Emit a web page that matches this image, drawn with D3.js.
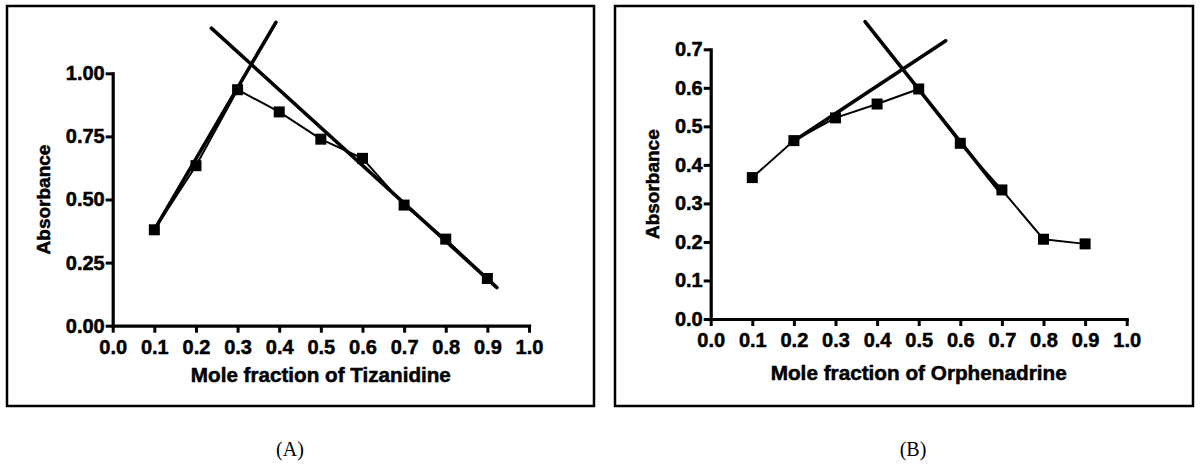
<!DOCTYPE html>
<html lang="en">
<head>
<meta charset="utf-8" />
<title>Job's plots</title>
<style>
html, body {
	margin: 0;
	padding: 0;
	background: #fff;
}
svg {
	display: block;
}
</style>
</head>
<body>
<svg width="1200" height="467"></svg>

<script src="https://cdn.jsdelivr.net/npm/d3@7/dist/d3.min.js"></script>
<script>

// mole fractions (x values shared by both plots)
var moleFraction = [0.1, 0.2, 0.3, 0.4, 0.5, 0.6, 0.7, 0.8, 0.9];

// (A) Tizanidine
var absTizanidine = [0.38, 0.634, 0.935, 0.847, 0.739, 0.663, 0.478, 0.343, 0.187];
var tizRiseLine = [[0.1, 0.38], [0.392, 1.202]];
var tizFallLine = [[0.237, 1.179], [0.923, 0.151]];
var tizYTicks = [0, 0.25, 0.5, 0.75, 1.0];

// (B) Orphenadrine
var absOrphenadrine = [0.367, 0.463, 0.522, 0.558, 0.597, 0.456, 0.335, 0.207, 0.195];
var orphRiseLine = [[0.19, 0.455], [0.565, 0.722]];
var orphFallLine = [[0.371, 0.772], [0.697, 0.328]];
var orphYTicks = [0, 0.1, 0.2, 0.3, 0.4, 0.5, 0.6, 0.7];

var xTicks = [0, 0.1, 0.2, 0.3, 0.4, 0.5, 0.6, 0.7, 0.8, 0.9, 1.0];

var SANS = '"Liberation Sans", Arial, Helvetica, sans-serif';
var SERIF = '"Liberation Serif", "Times New Roman", serif';

var svg = d3.select('svg');

drawPanel({
	box: [7, 6, 594, 406],
	x0: 112.7, x1: 529,
	y0: 325.7, y1: 73.3,
	yMax: 1.0,
	yTicks: tizYTicks,
	yFmt: d3.format('.2f'),
	values: absTizanidine,
	fits: [tizRiseLine, tizFallLine],
	xTitle: 'Mole fraction of Tizanidine',
	xTitleLen: 260,
	xTitleDy: 56,
	yTitleX: 43,
	caption: '(A)',
	captionX: 290
});

drawPanel({
	box: [615, 6, 1193, 406],
	x0: 710.7, x1: 1126.7,
	y0: 319, y1: 49.3,
	yMax: 0.7,
	yTicks: orphYTicks,
	yFmt: d3.format('.1f'),
	values: absOrphenadrine,
	fits: [orphRiseLine, orphFallLine],
	xTitle: 'Mole fraction of Orphenadrine',
	xTitleLen: 296,
	xTitleDy: 61,
	yTitleX: 652,
	caption: '(B)',
	captionX: 913
});

function boldText(sel, size) {
	return sel
		.attr('font-family', SANS)
		.attr('font-weight', 'bold')
		.attr('font-size', size)
		.attr('fill', '#000')
		.attr('stroke', '#000')
		.attr('stroke-width', 0.5);
}

function drawPanel(c) {
	// outer frame
	svg.append('rect')
		.attr('x', c.box[0]).attr('y', c.box[1])
		.attr('width', c.box[2] - c.box[0])
		.attr('height', c.box[3] - c.box[1])
		.attr('fill', 'none')
		.attr('stroke', '#000')
		.attr('stroke-width', 2.5);

	var x = d3.scaleLinear().domain([0, 1]).range([c.x0, c.x1]);
	var y = d3.scaleLinear().domain([0, c.yMax]).range([c.y0, c.y1]);

	var xAxis = svg.append('g')
		.attr('transform', 'translate(0,' + c.y0 + ')')
		.call(d3.axisBottom(x).tickValues(xTicks).tickFormat(d3.format('.1f'))
			.tickSize(7).tickSizeOuter(0).tickPadding(7));

	var yAxis = svg.append('g')
		.attr('transform', 'translate(' + c.x0 + ',0)')
		.call(d3.axisLeft(y).tickValues(c.yTicks).tickFormat(c.yFmt)
			.tickSize(7).tickSizeOuter(0).tickPadding(1));

	[xAxis, yAxis].forEach(function(a) {
		a.select('.domain').attr('stroke-width', 3.2).attr('stroke-linecap', 'square');
		a.selectAll('.tick line').attr('stroke-width', 3);
		boldText(a.selectAll('.tick text'), 20);
	});

	// fitted straight lines
	var line = d3.line().x(function(d) { return x(d[0]); }).y(function(d) { return y(d[1]); });
	c.fits.forEach(function(f) {
		svg.append('path')
			.attr('d', line(f))
			.attr('fill', 'none')
			.attr('stroke', '#000')
			.attr('stroke-width', 3.6)
			.attr('stroke-linecap', 'round');
	});

	// data series
	var pts = moleFraction.map(function(m, i) { return [m, c.values[i]]; });
	svg.append('path')
		.attr('d', line(pts))
		.attr('fill', 'none')
		.attr('stroke', '#000')
		.attr('stroke-width', 2);

	svg.append('g').selectAll('rect')
		.data(pts)
		.enter().append('rect')
		.attr('x', function(d) { return x(d[0]) - 5.5; })
		.attr('y', function(d) { return y(d[1]) - 5.5; })
		.attr('width', 11)
		.attr('height', 11)
		.attr('fill', '#000');

	// titles
	boldText(svg.append('text'), 20)
		.attr('x', (c.x0 + c.x1) / 2)
		.attr('y', c.y0 + c.xTitleDy)
		.attr('text-anchor', 'middle')
		.attr('textLength', c.xTitleLen)
		.attr('lengthAdjust', 'spacingAndGlyphs')
		.text(c.xTitle);

	boldText(svg.append('text'), 19)
		.attr('transform', 'translate(' + c.yTitleX + ',' + ((c.y0 + c.y1) / 2) + ') rotate(-90)')
		.attr('dy', '0.35em')
		.attr('text-anchor', 'middle')
		.text('Absorbance');

	svg.append('text')
		.attr('x', c.captionX)
		.attr('y', 456)
		.attr('text-anchor', 'middle')
		.attr('font-family', SERIF)
		.attr('font-size', 20)
		.text(c.caption);
}

</script>
</body>
</html>
